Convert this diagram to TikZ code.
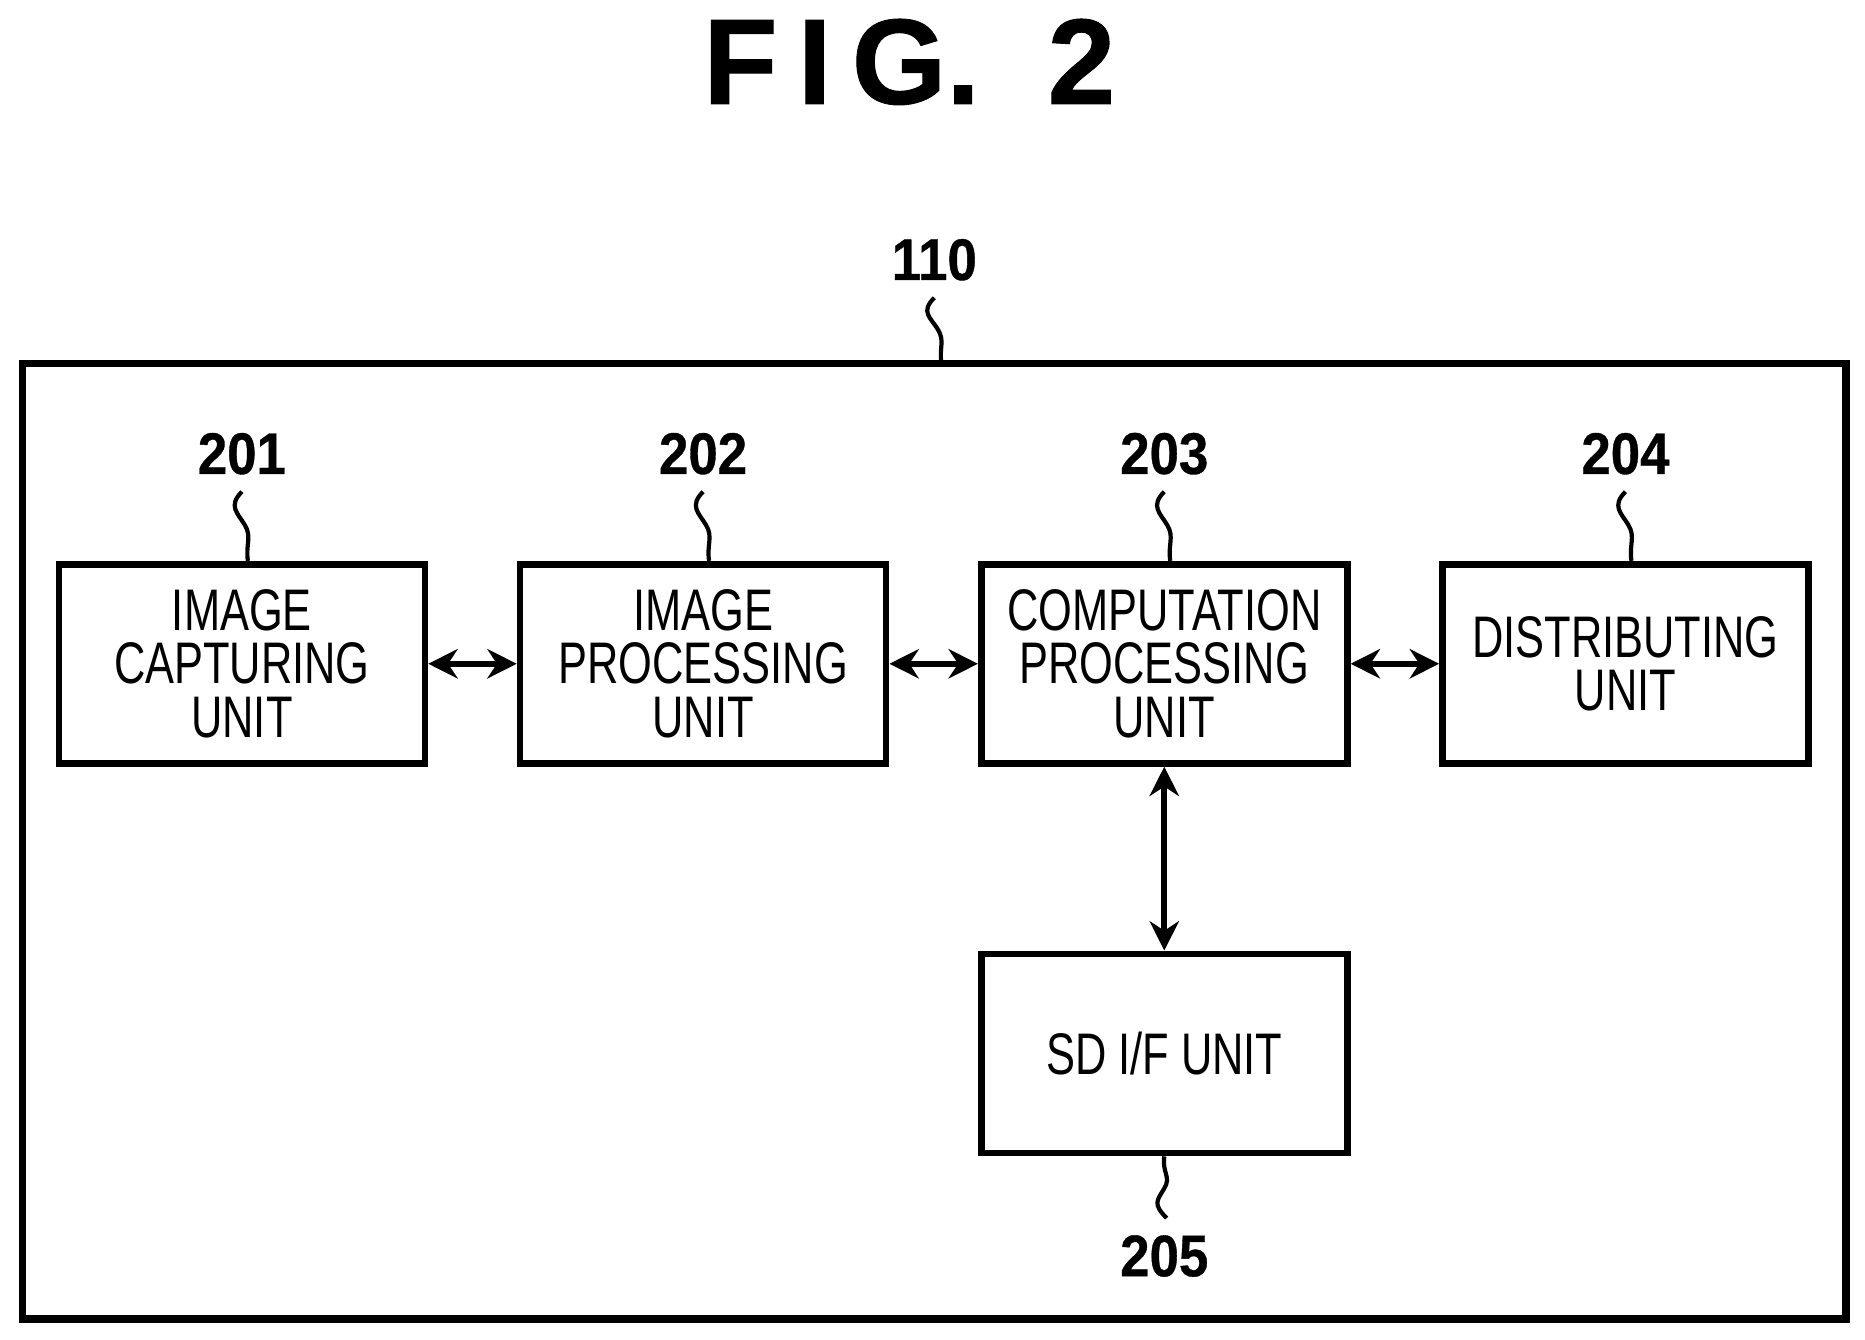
\documentclass[tikz,border=0pt]{standalone}
\usepackage{fontspec}
\setmainfont{Liberation Sans}[FakeStretch=0.74]
\newfontfamily\labelfont{Liberation Sans}[FakeBold=0.6, FakeStretch=0.9]
\newfontfamily\titlefont{Liberation Sans}[FakeBold=0.8]
\usetikzlibrary{positioning, arrows.meta, calc}
\tikzset{
  unit/.style={draw, line width=1.6pt, minimum width=3.07cm, minimum height=1.67cm,
    align=center, font=\fontsize{14pt}{12.8pt}\selectfont},
  num/.style={font=\labelfont\bfseries\fontsize{14pt}{14pt}\selectfont},
  E/.style={draw, line width=1.4pt, {Stealth[length=7pt,width=7pt]}-{Stealth[length=7pt,width=7pt]}},
  sq/.style={draw, line width=1pt}
}
\newcommand{\Squiggle}[2]{% from label down to box
  \draw[sq] ($(#1.south)+(0,2)$) .. controls +(-12,12) and +(-6,-10) .. ($(#1.south)!0.5!(#2)$)
    .. controls +(6,10) and +(-2,-14) .. (#2);}
\begin{document}
\begin{tikzpicture}[x=0.01cm, y=-0.01cm]
  \useasboundingbox (0,0) rectangle (1565,1124);
  \node (title) at (763,52) {\titlefont\bfseries\fontsize{29pt}{29pt}\selectfont F\,I\,G.\ \ 2};
  % outer unit
  \draw[line width=1.8pt] (19,305) rectangle (1549,1107);
  \coordinate (top) at (790,305);
  \node[num] (n110) at (784,218) {110};
  \Squiggle{n110}{top}
  % blocks
  \node[unit] (cap) at (203,557) {IMAGE\\CAPTURING\\UNIT};
  \node[unit] (proc) at (590,557) {IMAGE\\PROCESSING\\UNIT};
  \node[unit] (comp) at (977,557) {COMPUTATION\\PROCESSING\\UNIT};
  \node[unit] (dist) at (1364,557) {DISTRIBUTING\\UNIT};
  \node[unit] (sd) at (977,884) {SD I/F UNIT};
  % reference numerals
  \foreach \n/\b in {201/cap, 202/proc, 203/comp, 204/dist} {
    \node[num] (n\n) [above=0.6cm of \b] {\n};
    \coordinate (t\n) at ($(\b.north)+(5,0)$);
    \Squiggle{n\n}{t\n}
  }
  \node[num] (n205) at (977,1054) {205};
  \draw[sq] (sd.south) .. controls +(-2,14) and +(6,-10) .. ($(n205.north)!0.5!(sd.south)$)
    .. controls +(-6,10) and +(-12,-12) .. ($(n205.north)+(2,-2)$);
  % connections
  \path[E] (cap) -- (proc);
  \path[E] (proc) -- (comp);
  \path[E] (comp) -- (dist);
  \path[E] (comp) -- (sd);
\end{tikzpicture}
\end{document}
